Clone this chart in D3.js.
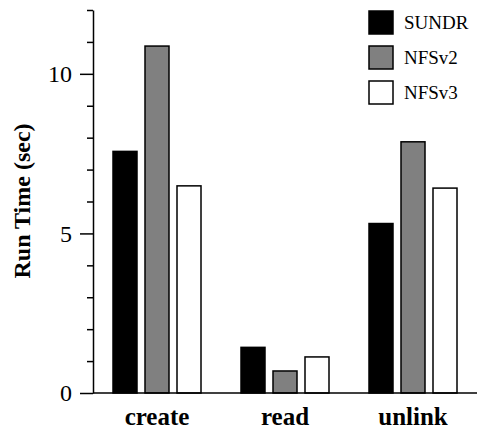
<!DOCTYPE html>
<html><head><meta charset="utf-8">
<script src="https://cdn.jsdelivr.net/npm/d3@7"></script>
<style>body{margin:0;background:#fff}svg{display:block}</style>
</head><body>
<svg id="c" width="477" height="432"></svg>
<script>
const categories = ["create", "read", "unlink"];
const seriesNames = ["SUNDR", "NFSv2", "NFSv3"];
const SUNDR = [7.57, 1.43, 5.31];
const NFSv2 = [10.87, 0.69, 7.87];
const NFSv3 = [6.49, 1.13, 6.42];
const majorTicks = [0, 5, 10];
const minorTicks = [1, 2, 3, 4, 6, 7, 8, 9, 11, 12];
const fills = ["#000000", "#808080", "#ffffff"];

const values = [SUNDR, NFSv2, NFSv3];
const svg = d3.select("#c");
const mLeft = 93, mRight = 477, mTop = 10, mBottom = 393;
const x0 = d3.scaleBand().domain(categories).range([mLeft, mRight]);
const x1 = d3.scaleBand().domain(seriesNames).range([0, x0.bandwidth()]).paddingInner(0.25).paddingOuter(0.625);
const y = d3.scaleLinear().domain([0, 12]).range([mBottom, mTop]);
const serif = "'Liberation Serif', 'Times New Roman', serif";

// bars
categories.forEach((c, ci) => {
  seriesNames.forEach((s, si) => {
    const v = values[si][ci];
    svg.append("rect")
      .attr("x", x0(c) + x1(s))
      .attr("y", y(v))
      .attr("width", x1.bandwidth())
      .attr("height", y(0) - y(v))
      .attr("fill", fills[si])
      .attr("stroke", "#000")
      .attr("stroke-width", 1.5);
  });
});

// y axis
const ax = svg.append("g").attr("transform", `translate(${mLeft},0)`);
ax.call(d3.axisLeft(y).tickValues(majorTicks).tickSize(13).tickPadding(8).tickSizeOuter(0));
ax.attr("font-family", serif);
ax.select(".domain").attr("stroke-width", 1.5);
ax.selectAll(".tick line").attr("stroke-width", 1.5);
ax.selectAll(".tick text").style("font-family", serif).attr("font-size", 24).attr("fill", "#000");
const axm = svg.append("g").attr("transform", `translate(${mLeft},0)`);
axm.call(d3.axisLeft(y).tickValues(minorTicks).tickSize(6).tickFormat("").tickSizeOuter(0));
axm.select(".domain").remove();
axm.selectAll(".tick line").attr("stroke-width", 1.5);

// x baseline
svg.append("line").attr("x1", mLeft).attr("x2", mRight).attr("y1", y(0)).attr("y2", y(0))
  .attr("stroke", "#000").attr("stroke-width", 1.5);

// category labels
const xa = svg.append("g").attr("transform", `translate(0,${mBottom})`);
xa.call(d3.axisBottom(x0).tickSize(0).tickPadding(14.5));
xa.attr("font-family", serif);
xa.select(".domain").remove();
xa.selectAll(".tick text").style("font-family", serif).attr("font-weight", "bold")
  .attr("font-size", 25).attr("fill", "#000");

// y label
svg.append("text")
  .attr("transform", `translate(30,201) rotate(-90)`)
  .attr("text-anchor", "middle")
  .style("font-family", serif).attr("font-weight", "bold").attr("font-size", 24)
  .text("Run Time (sec)");

// legend
const lg = svg.append("g");
seriesNames.forEach((s, i) => {
  lg.append("rect").attr("x", 369).attr("y", 11 + i * 35).attr("width", 24).attr("height", 23)
    .attr("fill", fills[i]).attr("stroke", "#000").attr("stroke-width", 1.5);
  lg.append("text").attr("x", 404).attr("y", 29 + i * 35)
    .style("font-family", serif).attr("font-size", 19).text(s);
});
</script>
</body></html>
